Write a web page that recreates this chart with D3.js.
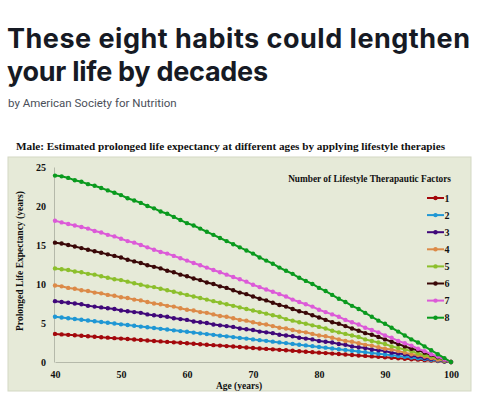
<!DOCTYPE html>
<html>
<head>
<meta charset="utf-8">
<script src="https://cdn.jsdelivr.net/npm/d3@7/dist/d3.min.js"></script>
<style>
  html, body { margin: 0; padding: 0; background: #ffffff; }
  svg { display: block; }
</style>
</head>
<body>
<svg id="chart" width="492" height="399"></svg>
<script>
// ---------- DATA ----------
const headline = ["These eight habits could lengthen", "your life by decades"];
const byline = "by American Society for Nutrition";
const chartTitle = "Male: Estimated prolonged life expectancy at different ages by applying lifestyle therapies";
const legendTitle = "Number of Lifestyle Therapautic Factors";
const xAxisTitle = "Age (years)";
const yAxisTitle = "Prolonged Life Expectancy (years)";

const ages = d3.range(40, 101); // one point per year, 40..100
const xTicks = [40, 50, 60, 70, 80, 90, 100];
const yTicks = [0, 5, 10, 15, 20, 25];

const seriesNames = ["1", "2", "3", "4", "5", "6", "7", "8"];
const seriesColors = ["#a3080c", "#1f97d4", "#40087a", "#dc8a48", "#8cbf2c", "#3a0808", "#dc5ad8", "#0a9a1e"];

const s1 = [3.60,3.54,3.48,3.42,3.36,3.30,3.24,3.18,3.12,3.06,3.00,2.94,2.88,2.82,2.76,2.70,2.64,2.58,2.52,2.46,2.40,2.34,2.28,2.22,2.16,2.10,2.04,1.98,1.92,1.86,1.80,1.74,1.68,1.62,1.56,1.50,1.44,1.38,1.32,1.26,1.20,1.14,1.08,1.02,0.96,0.90,0.84,0.78,0.72,0.66,0.60,0.54,0.48,0.42,0.36,0.30,0.24,0.18,0.12,0.06,0];
const s2 = [5.80,5.70,5.61,5.51,5.41,5.32,5.22,5.12,5.03,4.93,4.83,4.74,4.64,4.54,4.45,4.35,4.25,4.16,4.06,3.96,3.87,3.77,3.67,3.58,3.48,3.38,3.29,3.19,3.09,3.00,2.90,2.80,2.71,2.61,2.51,2.42,2.32,2.22,2.13,2.03,1.93,1.84,1.74,1.64,1.55,1.45,1.35,1.26,1.16,1.06,0.97,0.87,0.77,0.68,0.58,0.48,0.39,0.29,0.19,0.10,0];
const s3 = [7.8,7.7,7.6,7.5,7.4,7.2,7.1,7.0,6.9,6.8,6.6,6.5,6.4,6.3,6.1,6.0,5.9,5.8,5.6,5.5,5.4,5.2,5.1,5.0,4.8,4.7,4.6,4.5,4.3,4.2,4.1,3.9,3.8,3.7,3.5,3.4,3.3,3.1,3.0,2.9,2.7,2.6,2.5,2.3,2.2,2.0,1.9,1.8,1.6,1.5,1.4,1.2,1.1,1.0,0.8,0.7,0.5,0.4,0.3,0.1,0];
const s4 = [9.8,9.7,9.5,9.4,9.2,9.1,8.9,8.8,8.6,8.5,8.3,8.2,8.0,7.9,7.7,7.5,7.4,7.2,7.1,6.9,6.7,6.6,6.4,6.3,6.1,5.9,5.8,5.6,5.4,5.3,5.1,4.9,4.8,4.6,4.4,4.3,4.1,3.9,3.8,3.6,3.4,3.3,3.1,2.9,2.7,2.6,2.4,2.2,2.1,1.9,1.7,1.6,1.4,1.2,1.0,0.9,0.7,0.5,0.3,0.2,0];
const s5 = [12.0,11.9,11.8,11.6,11.5,11.3,11.2,11.0,10.8,10.6,10.5,10.3,10.1,9.9,9.7,9.6,9.4,9.2,9.0,8.8,8.6,8.4,8.2,8.0,7.8,7.6,7.4,7.2,7.0,6.8,6.6,6.4,6.2,6.0,5.8,5.5,5.3,5.1,4.9,4.7,4.5,4.3,4.0,3.8,3.6,3.4,3.2,2.9,2.7,2.5,2.3,2.0,1.8,1.6,1.4,1.1,0.9,0.7,0.5,0.2,0];
const s6 = [15.3,15.2,15.0,14.8,14.6,14.4,14.2,14.0,13.8,13.6,13.4,13.1,12.9,12.7,12.4,12.2,12.0,11.7,11.5,11.2,11.0,10.7,10.5,10.2,10.0,9.7,9.5,9.2,8.9,8.7,8.4,8.1,7.9,7.6,7.3,7.1,6.8,6.5,6.3,6.0,5.7,5.4,5.1,4.9,4.6,4.3,4.0,3.7,3.5,3.2,2.9,2.6,2.3,2.0,1.7,1.5,1.2,0.9,0.6,0.3,0];
const s7 = [18.1,17.9,17.7,17.5,17.3,17.1,16.8,16.6,16.3,16.1,15.8,15.5,15.3,15.0,14.7,14.4,14.1,13.9,13.6,13.3,13.0,12.7,12.4,12.1,11.8,11.5,11.2,10.9,10.6,10.3,9.9,9.6,9.3,9.0,8.7,8.4,8.0,7.7,7.4,7.1,6.7,6.4,6.1,5.8,5.4,5.1,4.8,4.4,4.1,3.8,3.4,3.1,2.7,2.4,2.1,1.7,1.4,1.0,0.7,0.3,0];
const s8 = [23.9,23.8,23.6,23.3,23.1,22.8,22.6,22.3,22.0,21.7,21.4,21.0,20.7,20.4,20.0,19.7,19.3,19.0,18.6,18.2,17.8,17.5,17.1,16.7,16.3,15.9,15.5,15.1,14.7,14.3,13.9,13.4,13.0,12.6,12.1,11.7,11.3,10.8,10.4,10.0,9.5,9.1,8.6,8.1,7.7,7.2,6.8,6.3,5.8,5.3,4.9,4.4,3.9,3.4,2.9,2.5,2.0,1.5,1.0,0.5,0];
const seriesValues = [s1, s2, s3, s4, s5, s6, s7, s8];

// ---------- DRAWING ----------
const svg = d3.select("#chart");
const W = 492, H = 399;
svg.append("rect").attr("width", W).attr("height", H).attr("fill", "#ffffff");

// Headline
const headWidths = [463, 261];
const head = svg.append("g");
headline.forEach((line, i) => {
  head.append("text")
    .attr("x", 7).attr("y", 48 + i * 33)
    .attr("font-family", "Inter, Roboto, 'Noto Sans', sans-serif")
    .attr("font-weight", 700)
    .attr("font-size", 27)
    .attr("fill", "#161a24")
    .attr("textLength", headWidths[i])
    .text(line);
});
svg.append("text")
  .attr("x", 8).attr("y", 107)
  .attr("font-family", "Roboto, 'Noto Sans', sans-serif")
  .attr("font-size", 11.5)
  .attr("fill", "#4a4f59")
  .text(byline);

// Chart title (serif bold)
const serif = "'Liberation Serif', 'Times New Roman', serif";
svg.append("text")
  .attr("x", 16).attr("y", 150)
  .attr("font-family", serif)
  .attr("font-weight", 700)
  .attr("font-size", 10)
  .attr("fill", "#111")
  .attr("textLength", 429).attr("lengthAdjust", "spacingAndGlyphs")
  .text(chartTitle);

// Chart panel background
svg.append("rect")
  .attr("x", 8).attr("y", 157).attr("width", 463).attr("height", 234)
  .attr("fill", "#e6ead8")
  .attr("stroke", "#d3d8c3").attr("stroke-width", 1);

const x = d3.scaleLinear().domain([40, 100]).range([55, 451]);
const y = d3.scaleLinear().domain([0, 25]).range([362, 167]);

// Axes
const xAxis = svg.append("g").attr("transform", `translate(0,${y(0)})`)
  .call(d3.axisBottom(x).tickValues(xTicks).tickSize(0).tickPadding(9).tickFormat(d3.format("d")));
const yAxis = svg.append("g").attr("transform", `translate(${x(40) - 1},0)`)
  .call(d3.axisLeft(y).tickValues(yTicks).tickSize(0).tickPadding(8).tickFormat(d3.format("d")));
[xAxis, yAxis].forEach(g => {
  g.select(".domain").attr("stroke", "#b5b9aa").attr("stroke-width", 1);
  g.selectAll("text")
    .attr("font-family", serif).attr("font-weight", 700)
    .attr("font-size", 10).attr("fill", "#111");
});

// Axis titles
svg.append("text")
  .attr("x", 239).attr("y", 389)
  .attr("text-anchor", "middle")
  .attr("font-family", serif).attr("font-weight", 700)
  .attr("font-size", 9.5).attr("fill", "#111")
  .text(xAxisTitle);
svg.append("text")
  .attr("transform", "translate(23,261) rotate(-90)")
  .attr("text-anchor", "middle")
  .attr("font-family", serif).attr("font-weight", 700)
  .attr("font-size", 9.5).attr("fill", "#111")
  .text(yAxisTitle);

// Series
const line = d3.line().x((d, i) => x(ages[i])).y(d => y(d));
const seriesG = svg.append("g");
seriesValues.forEach((vals, k) => {
  const g = seriesG.append("g");
  g.append("path").datum(vals)
    .attr("d", line)
    .attr("fill", "none")
    .attr("stroke", seriesColors[k])
    .attr("stroke-width", 2);
  g.selectAll("circle").data(vals).join("circle")
    .attr("cx", (d, i) => x(ages[i]))
    .attr("cy", d => y(d))
    .attr("r", 2.2)
    .attr("fill", seriesColors[k]);
});

// Legend
const legend = svg.append("g");
legend.append("text")
  .attr("x", 451).attr("y", 182)
  .attr("text-anchor", "end")
  .attr("font-family", serif).attr("font-weight", 700)
  .attr("font-size", 9.3).attr("fill", "#111")
  .text(legendTitle);
seriesNames.forEach((name, k) => {
  const ly = 198 + k * 17.1;
  legend.append("line")
    .attr("x1", 427).attr("x2", 444).attr("y1", ly).attr("y2", ly)
    .attr("stroke", seriesColors[k]).attr("stroke-width", 2);
  legend.append("circle")
    .attr("cx", 435.5).attr("cy", ly).attr("r", 2.2)
    .attr("fill", seriesColors[k]);
  legend.append("text")
    .attr("x", 444.5).attr("y", ly + 3.5)
    .attr("font-family", serif).attr("font-weight", 700)
    .attr("font-size", 10).attr("fill", "#111")
    .text(name);
});
</script>
</body>
</html>
